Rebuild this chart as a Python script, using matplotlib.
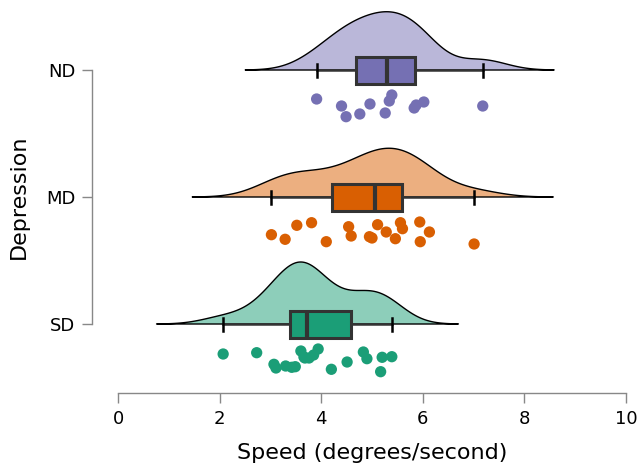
import numpy as np
import matplotlib
matplotlib.use("Agg")
import matplotlib.pyplot as plt

# ---- data ----
groups = ["ND", "MD", "SD"]
nd_speed = [3.91, 4.40, 4.49, 4.76, 4.96, 5.26, 5.34, 5.39, 5.83, 5.87, 6.02, 7.18]
md_speed = [3.02, 3.29, 3.52, 3.81, 4.10, 4.54, 4.59, 4.95, 5.00, 5.11, 5.28, 5.46,
            5.56, 5.60, 5.94, 5.95, 6.13, 7.01]
sd_speed = [2.07, 2.73, 3.07, 3.11, 3.30, 3.42, 3.49, 3.60, 3.66, 3.68, 3.76, 3.85,
            3.94, 4.20, 4.51, 4.83, 4.90, 5.17, 5.20, 5.39]
x_ticks = [0, 2, 4, 6, 8, 10]

# vertical jitter of the rain points (pixels)
nd_jit = [-7, 0, 10.7, 8, -2, 7, -5, -11, 2, -1, -4, 0]
md_jit = [1.7, 6.3, -7.7, -10.3, 8.7, -6.3, 3, 3.7, 5, -8.3, -1, 5.7, -10.3, -4.3,
          -11, 8.7, -1, 11]
sd_jit = [-6, -7.3, 4.3, 8, 6, 7.3, 6.7, -9, -3, -2, -2, -5, -11, 9.3, 2, -8, -1.3,
          11.7, -2.7, -3.3]

data = [nd_speed, md_speed, sd_speed]
jits = [nd_jit, md_jit, sd_jit]
ypos = [3, 2, 1]
colors = ["#7570b3", "#d95f02", "#1b9e77"]
light = ["#bab7d9", "#ecaf80", "#8dceba"]

PX = 127.0  # pixels per category unit
AX_L, AX_R, AX_B, AX_T = 92, 626, 393, 5  # axes box in pixels


def nrd0(x):
    x = np.asarray(x)
    sd = x.std(ddof=1)
    q75, q25 = np.percentile(x, [75, 25])
    return 0.9 * min(sd, (q75 - q25) / 1.34) * len(x) ** -0.2


def kde(x):
    x = np.asarray(x)
    bw = nrd0(x)
    g = np.linspace(x.min() - 3 * bw, x.max() + 3 * bw, 512)
    d = np.exp(-0.5 * ((g[:, None] - x[None, :]) / bw) ** 2).sum(1)
    d /= (len(x) * bw * np.sqrt(2 * np.pi))
    return g, d


fig = plt.figure(figsize=(6.39, 4.72), dpi=100)
W = AX_R - AX_L
H = AX_B - AX_T
ax = fig.add_axes([AX_L / 639, (472 - AX_B) / 472, W / 639, H / 472])
ax.set_xlim(-26 / 50.8, 10)
ax.set_ylim(1 - 69 / PX, 3 + 65 / PX)

dens = [kde(d) for d in data]
maxd = max(d.max() for _, d in dens)
scale = (62 / PX) / maxd

for (g, d), y, c, lc in zip(dens, ypos, colors, light):
    top = y + d * scale
    xs = np.concatenate([g, g[::-1]])
    ys = np.concatenate([top, np.full_like(g, y)])
    ax.fill(xs, ys, facecolor=lc, edgecolor="black", lw=1.0, zorder=1)

bp = ax.boxplot(data, positions=ypos, vert=False, widths=27 / PX,
                patch_artist=True, showfliers=False, capwidths=13 / PX,
                medianprops=dict(color="#333333", lw=3),
                boxprops=dict(edgecolor="#333333", lw=2.2),
                whiskerprops=dict(color="#333333", lw=1.8),
                capprops=dict(color="black", lw=1.8), zorder=3)
for patch, c in zip(bp["boxes"], colors):
    patch.set_facecolor(c)

for d, j, y, c in zip(data, jits, ypos, colors):
    yy = y - 36 / PX - np.asarray(j) / PX
    ax.scatter(d, yy, s=66, color=c, edgecolors="none", zorder=4)

for s in ["top", "right"]:
    ax.spines[s].set_visible(False)
ax.spines["left"].set_bounds(1, 3)
ax.spines["bottom"].set_bounds(0, 10)
for s in ["left", "bottom"]:
    ax.spines[s].set_color("#888888")
    ax.spines[s].set_linewidth(1.0)

ax.set_yticks(ypos)
ax.set_yticklabels(groups)
ax.set_xticks(x_ticks)
ax.tick_params(axis="both", length=7, width=1, color="#888888", labelsize=13,
               labelcolor="black", pad=5)
ax.set_xlabel("Speed (degrees/second)", fontsize=16)
ax.set_ylabel("Depression", fontsize=16)
ax.xaxis.set_label_coords((372 - AX_L) / W, (AX_B - 443) / H)
ax.yaxis.set_label_coords((29 - AX_L) / W, (AX_B - 197) / H)

fig.savefig("out.png", dpi=100)
